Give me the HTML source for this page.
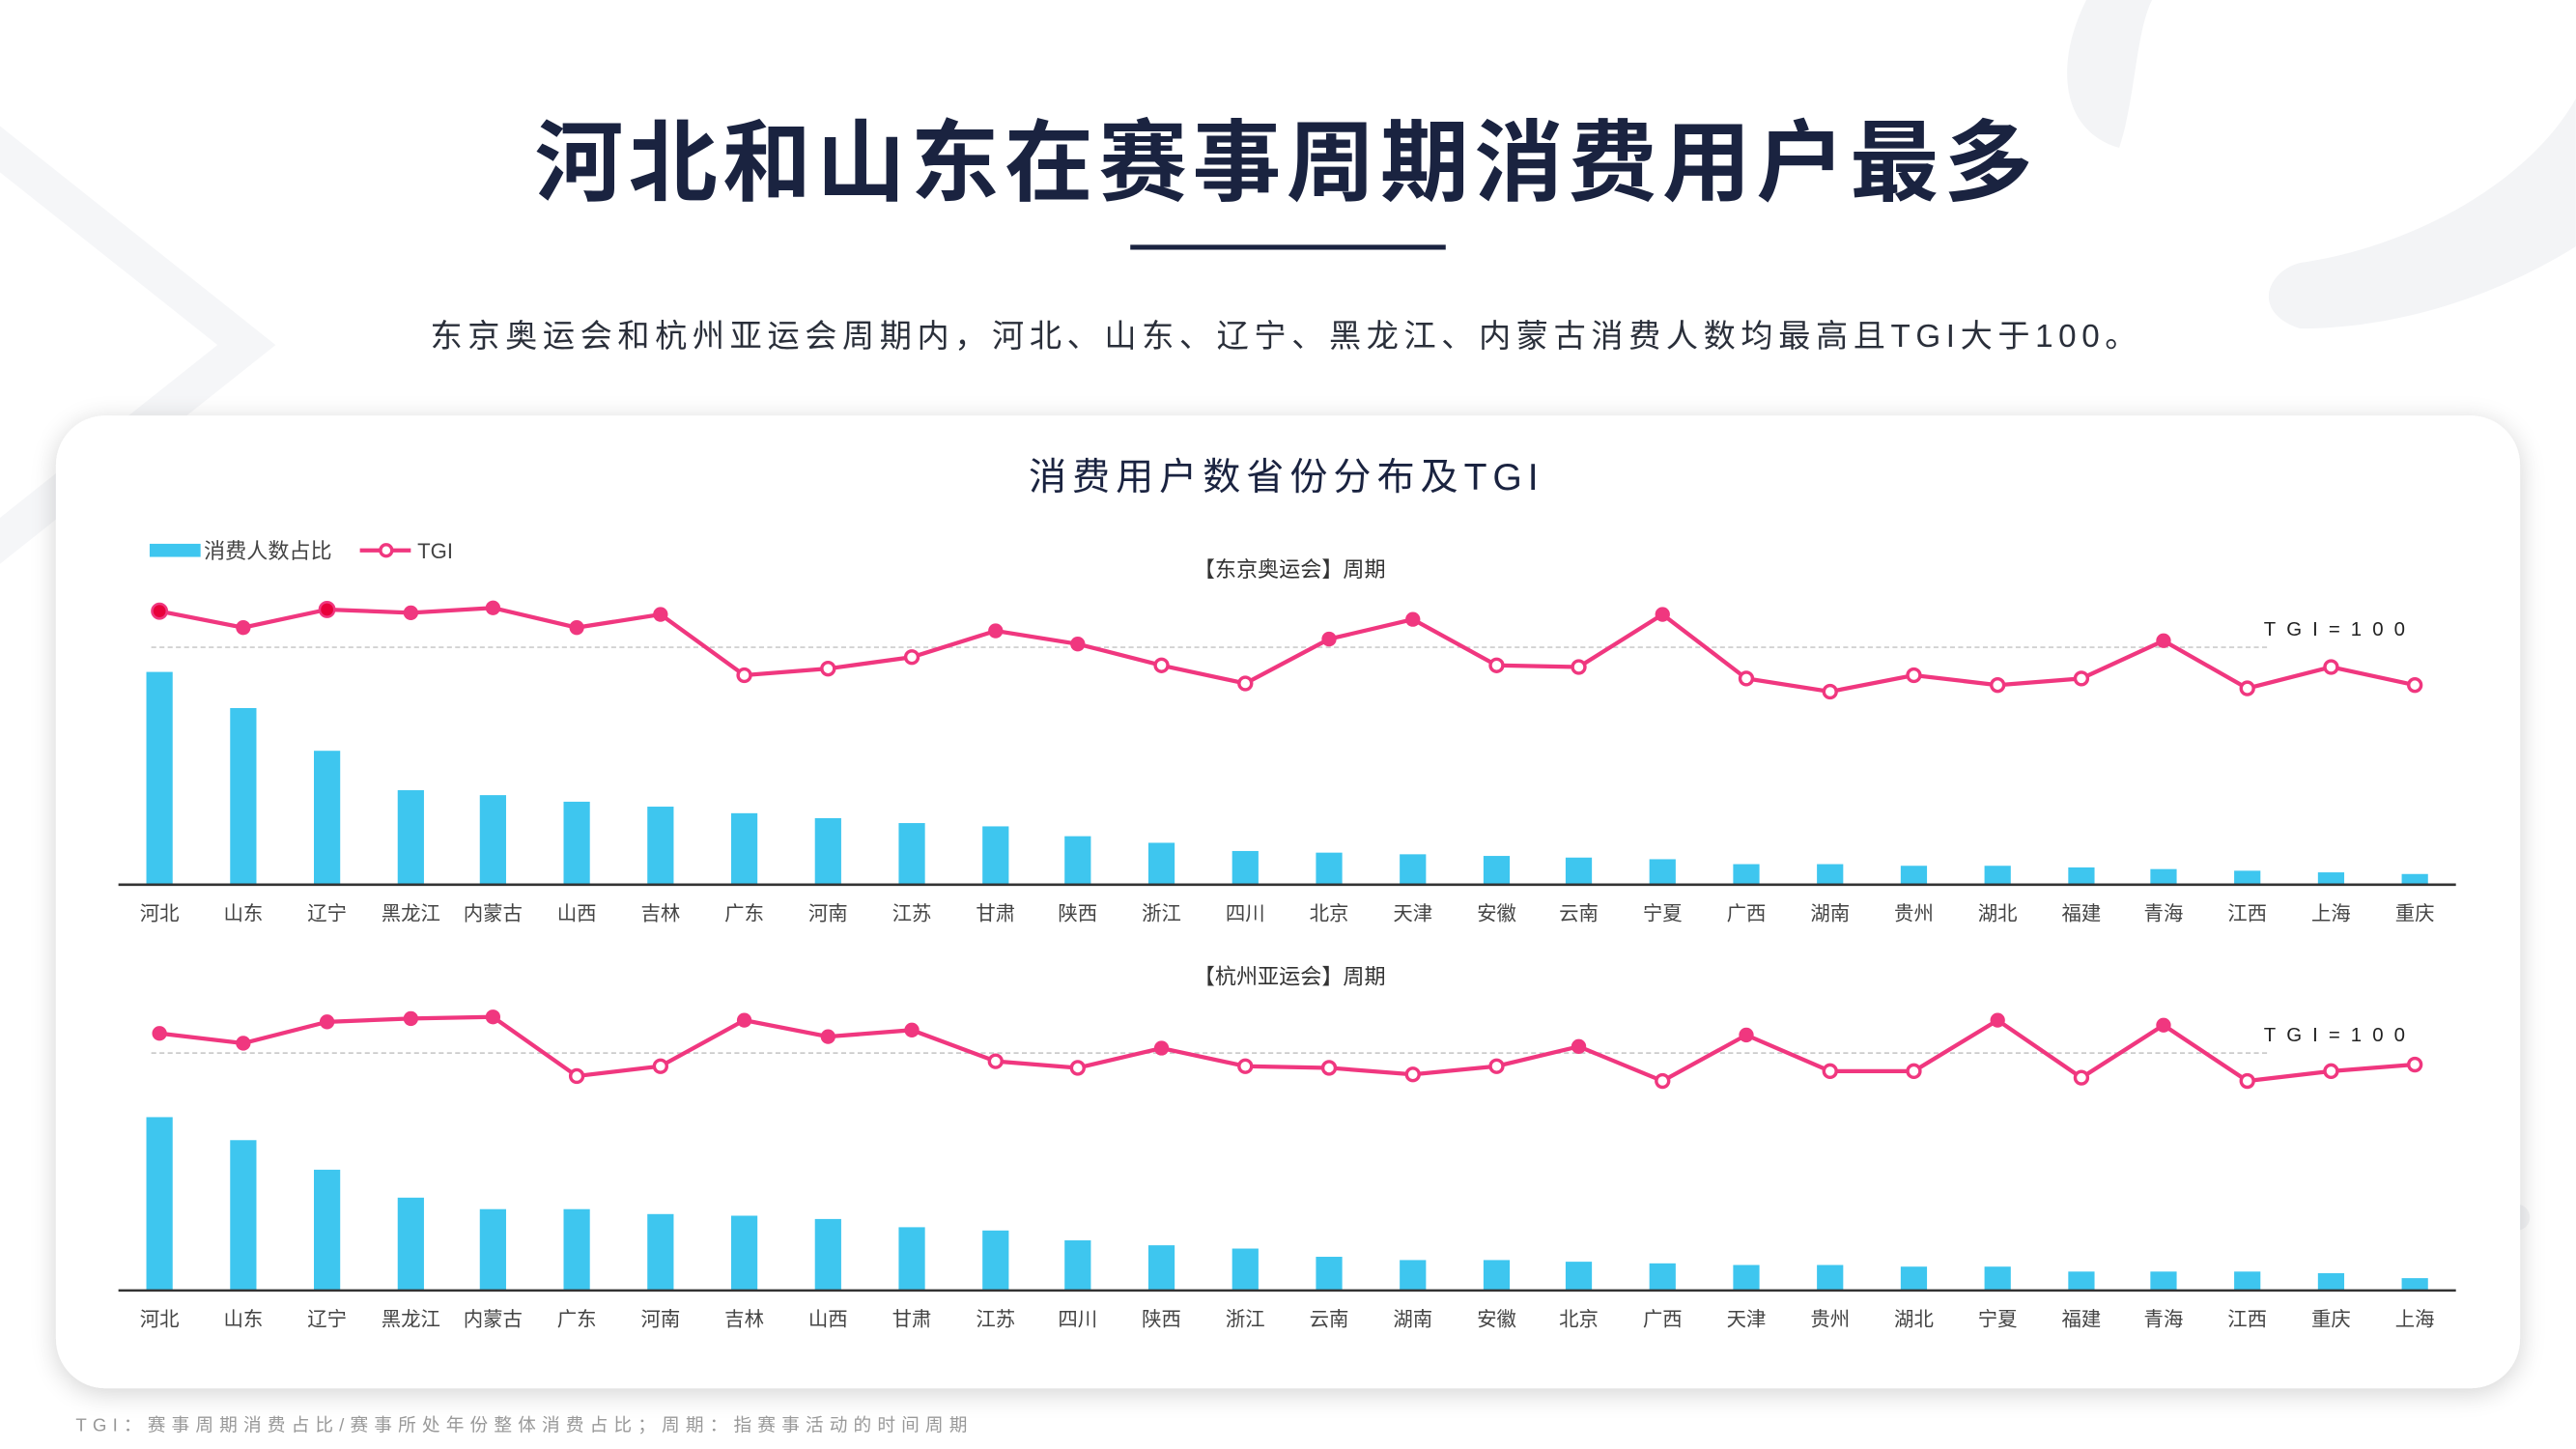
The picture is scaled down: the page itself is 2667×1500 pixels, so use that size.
<!DOCTYPE html>
<html><head><meta charset="utf-8"><style>
html,body{margin:0;padding:0;background:#fff;}
svg{display:block;}
text{font-family:"Liberation Sans","Noto Sans CJK SC",sans-serif;}
</style></head><body>
<svg width="2667" height="1500" viewBox="0 0 1568 882" xmlns="http://www.w3.org/2000/svg">
<defs>
<filter id="sh" x="-5%" y="-10%" width="110%" height="125%"><feGaussianBlur in="SourceAlpha" stdDeviation="8"/><feOffset dy="3"/><feComponentTransfer><feFuncA type="linear" slope="0.18"/></feComponentTransfer><feMerge><feMergeNode/><feMergeNode in="SourceGraphic"/></feMerge></filter>
</defs>
<rect width="1568" height="882" fill="#fff"/>
<polyline points="-20,75 150,210 -20,345" fill="none" stroke="#f5f6f8" stroke-width="22"/>
<path d="M1270,0 C1250,40 1255,80 1290,90 C1300,60 1300,20 1310,0 Z" fill="#f3f4f6"/>
<path d="M1400,160 C1470,150 1540,110 1568,60 L1568,150 C1520,180 1460,200 1400,200 C1370,190 1380,165 1400,160 Z" fill="#f3f4f6"/>
<rect x="1497" y="708" width="16" height="66" rx="8" fill="#f3f4f6"/>
<rect x="1470" y="733" width="70" height="16" rx="8" fill="#f3f4f6"/>
<text x="783" y="118" text-anchor="middle" font-size="54" font-weight="bold" fill="#1a2340" letter-spacing="3.2">河北和山东在赛事周期消费用户最多</text>
<rect x="688" y="149" width="192" height="3" fill="#1a2340"/>
<text x="783" y="211" text-anchor="middle" font-size="19.5" fill="#2a2f3a" letter-spacing="3.3">东京奥运会和杭州亚运会周期内，河北、山东、辽宁、黑龙江、内蒙古消费人数均最高且TGI大于100。</text>
<rect x="34" y="253" width="1500" height="592" rx="30" fill="#fff" filter="url(#sh)"/>
<text x="783" y="298" text-anchor="middle" font-size="23" fill="#1a2340" letter-spacing="3.5">消费用户数省份分布及TGI</text>
<rect x="91" y="331" width="31" height="8" fill="#3ec6ef"/>
<text x="124" y="340" font-size="13" fill="#444">消费人数占比</text>
<line x1="219" y1="335" x2="250" y2="335" stroke="#f0377f" stroke-width="2.5"/>
<circle cx="235" cy="335" r="3.5" fill="#fff" stroke="#f0377f" stroke-width="2"/>
<text x="254" y="340" font-size="13" fill="#444">TGI</text>
<text x="785" y="351" text-anchor="middle" font-size="13" fill="#333">【东京奥运会】周期</text>
<text x="785" y="599" text-anchor="middle" font-size="13" fill="#333">【杭州亚运会】周期</text>

<line x1="92" y1="394" x2="1380" y2="394" stroke="#ccc" stroke-width="1" stroke-dasharray="3,2"/>
<text x="1378" y="387" font-size="12" fill="#222" letter-spacing="6.5">TGI=100</text>
<g fill="#3ec6ef">
<rect x="89" y="409" width="16" height="129"/><rect x="140" y="431" width="16" height="107"/><rect x="191" y="457" width="16" height="81"/><rect x="242" y="481" width="16" height="57"/><rect x="292" y="484" width="16" height="54"/><rect x="343" y="488" width="16" height="50"/><rect x="394" y="491" width="16" height="47"/><rect x="445" y="495" width="16" height="43"/><rect x="496" y="498" width="16" height="40"/><rect x="547" y="501" width="16" height="37"/><rect x="598" y="503" width="16" height="35"/><rect x="648" y="509" width="16" height="29"/><rect x="699" y="513" width="16" height="25"/><rect x="750" y="518" width="16" height="20"/><rect x="801" y="519" width="16" height="19"/><rect x="852" y="520" width="16" height="18"/><rect x="903" y="521" width="16" height="17"/><rect x="953" y="522" width="16" height="16"/><rect x="1004" y="523" width="16" height="15"/><rect x="1055" y="526" width="16" height="12"/><rect x="1106" y="526" width="16" height="12"/><rect x="1157" y="527" width="16" height="11"/><rect x="1208" y="527" width="16" height="11"/><rect x="1259" y="528" width="16" height="10"/><rect x="1309" y="529" width="16" height="9"/><rect x="1360" y="530" width="16" height="8"/><rect x="1411" y="531" width="16" height="7"/><rect x="1462" y="532" width="16" height="6"/>
</g>
<line x1="72" y1="538.5" x2="1495" y2="538.5" stroke="#333" stroke-width="1.5"/>
<polyline fill="none" stroke="#f0377f" stroke-width="2.5" points="97,372 148,382 199,371 250,373 300,370 351,382 402,374 453,411 504,407 555,400 606,384 656,392 707,405 758,416 809,389 860,377 911,405 961,406 1012,374 1063,413 1114,421 1165,411 1216,417 1267,413 1317,390 1368,419 1419,406 1470,417"/>
<g fill="#f0377f">
<circle cx="97" cy="372" r="4.5" fill="#e8003a" stroke="#f0377f" stroke-width="1.5"/><circle cx="148" cy="382" r="4.5"/><circle cx="199" cy="371" r="4.5" fill="#e8003a" stroke="#f0377f" stroke-width="1.5"/><circle cx="250" cy="373" r="4.5"/><circle cx="300" cy="370" r="4.5"/><circle cx="351" cy="382" r="4.5"/><circle cx="402" cy="374" r="4.5"/><circle cx="606" cy="384" r="4.5"/><circle cx="656" cy="392" r="4.5"/><circle cx="809" cy="389" r="4.5"/><circle cx="860" cy="377" r="4.5"/><circle cx="1012" cy="374" r="4.5"/><circle cx="1317" cy="390" r="4.5"/>
</g>
<g fill="#fff" stroke="#f0377f" stroke-width="2">
<circle cx="453" cy="411" r="3.8"/><circle cx="504" cy="407" r="3.8"/><circle cx="555" cy="400" r="3.8"/><circle cx="707" cy="405" r="3.8"/><circle cx="758" cy="416" r="3.8"/><circle cx="911" cy="405" r="3.8"/><circle cx="961" cy="406" r="3.8"/><circle cx="1063" cy="413" r="3.8"/><circle cx="1114" cy="421" r="3.8"/><circle cx="1165" cy="411" r="3.8"/><circle cx="1216" cy="417" r="3.8"/><circle cx="1267" cy="413" r="3.8"/><circle cx="1368" cy="419" r="3.8"/><circle cx="1419" cy="406" r="3.8"/><circle cx="1470" cy="417" r="3.8"/>
</g>
<g font-size="12" fill="#444" text-anchor="middle">
<text x="97" y="560">河北</text><text x="148" y="560">山东</text><text x="199" y="560">辽宁</text><text x="250" y="560">黑龙江</text><text x="300" y="560">内蒙古</text><text x="351" y="560">山西</text><text x="402" y="560">吉林</text><text x="453" y="560">广东</text><text x="504" y="560">河南</text><text x="555" y="560">江苏</text><text x="606" y="560">甘肃</text><text x="656" y="560">陕西</text><text x="707" y="560">浙江</text><text x="758" y="560">四川</text><text x="809" y="560">北京</text><text x="860" y="560">天津</text><text x="911" y="560">安徽</text><text x="961" y="560">云南</text><text x="1012" y="560">宁夏</text><text x="1063" y="560">广西</text><text x="1114" y="560">湖南</text><text x="1165" y="560">贵州</text><text x="1216" y="560">湖北</text><text x="1267" y="560">福建</text><text x="1317" y="560">青海</text><text x="1368" y="560">江西</text><text x="1419" y="560">上海</text><text x="1470" y="560">重庆</text>
</g>

<line x1="92" y1="641" x2="1380" y2="641" stroke="#ccc" stroke-width="1" stroke-dasharray="3,2"/>
<text x="1378" y="634" font-size="12" fill="#222" letter-spacing="6.5">TGI=100</text>
<g fill="#3ec6ef">
<rect x="89" y="680" width="16" height="105"/><rect x="140" y="694" width="16" height="91"/><rect x="191" y="712" width="16" height="73"/><rect x="242" y="729" width="16" height="56"/><rect x="292" y="736" width="16" height="49"/><rect x="343" y="736" width="16" height="49"/><rect x="394" y="739" width="16" height="46"/><rect x="445" y="740" width="16" height="45"/><rect x="496" y="742" width="16" height="43"/><rect x="547" y="747" width="16" height="38"/><rect x="598" y="749" width="16" height="36"/><rect x="648" y="755" width="16" height="30"/><rect x="699" y="758" width="16" height="27"/><rect x="750" y="760" width="16" height="25"/><rect x="801" y="765" width="16" height="20"/><rect x="852" y="767" width="16" height="18"/><rect x="903" y="767" width="16" height="18"/><rect x="953" y="768" width="16" height="17"/><rect x="1004" y="769" width="16" height="16"/><rect x="1055" y="770" width="16" height="15"/><rect x="1106" y="770" width="16" height="15"/><rect x="1157" y="771" width="16" height="14"/><rect x="1208" y="771" width="16" height="14"/><rect x="1259" y="774" width="16" height="11"/><rect x="1309" y="774" width="16" height="11"/><rect x="1360" y="774" width="16" height="11"/><rect x="1411" y="775" width="16" height="10"/><rect x="1462" y="778" width="16" height="7"/>
</g>
<line x1="72" y1="785.5" x2="1495" y2="785.5" stroke="#333" stroke-width="1.5"/>
<polyline fill="none" stroke="#f0377f" stroke-width="2.5" points="97,629 148,635 199,622 250,620 300,619 351,655 402,649 453,621 504,631 555,627 606,646 656,650 707,638 758,649 809,650 860,654 911,649 961,637 1012,658 1063,630 1114,652 1165,652 1216,621 1267,656 1317,624 1368,658 1419,652 1470,648"/>
<g fill="#f0377f">
<circle cx="97" cy="629" r="4.5"/><circle cx="148" cy="635" r="4.5"/><circle cx="199" cy="622" r="4.5"/><circle cx="250" cy="620" r="4.5"/><circle cx="300" cy="619" r="4.5"/><circle cx="453" cy="621" r="4.5"/><circle cx="504" cy="631" r="4.5"/><circle cx="555" cy="627" r="4.5"/><circle cx="707" cy="638" r="4.5"/><circle cx="961" cy="637" r="4.5"/><circle cx="1063" cy="630" r="4.5"/><circle cx="1216" cy="621" r="4.5"/><circle cx="1317" cy="624" r="4.5"/>
</g>
<g fill="#fff" stroke="#f0377f" stroke-width="2">
<circle cx="351" cy="655" r="3.8"/><circle cx="402" cy="649" r="3.8"/><circle cx="606" cy="646" r="3.8"/><circle cx="656" cy="650" r="3.8"/><circle cx="758" cy="649" r="3.8"/><circle cx="809" cy="650" r="3.8"/><circle cx="860" cy="654" r="3.8"/><circle cx="911" cy="649" r="3.8"/><circle cx="1012" cy="658" r="3.8"/><circle cx="1114" cy="652" r="3.8"/><circle cx="1165" cy="652" r="3.8"/><circle cx="1267" cy="656" r="3.8"/><circle cx="1368" cy="658" r="3.8"/><circle cx="1419" cy="652" r="3.8"/><circle cx="1470" cy="648" r="3.8"/>
</g>
<g font-size="12" fill="#444" text-anchor="middle">
<text x="97" y="807">河北</text><text x="148" y="807">山东</text><text x="199" y="807">辽宁</text><text x="250" y="807">黑龙江</text><text x="300" y="807">内蒙古</text><text x="351" y="807">广东</text><text x="402" y="807">河南</text><text x="453" y="807">吉林</text><text x="504" y="807">山西</text><text x="555" y="807">甘肃</text><text x="606" y="807">江苏</text><text x="656" y="807">四川</text><text x="707" y="807">陕西</text><text x="758" y="807">浙江</text><text x="809" y="807">云南</text><text x="860" y="807">湖南</text><text x="911" y="807">安徽</text><text x="961" y="807">北京</text><text x="1012" y="807">广西</text><text x="1063" y="807">天津</text><text x="1114" y="807">贵州</text><text x="1165" y="807">湖北</text><text x="1216" y="807">宁夏</text><text x="1267" y="807">福建</text><text x="1317" y="807">青海</text><text x="1368" y="807">江西</text><text x="1419" y="807">重庆</text><text x="1470" y="807">上海</text>
</g>
<text x="46" y="871" font-size="11" fill="#999" letter-spacing="3.6">TGI：赛事周期消费占比/赛事所处年份整体消费占比；周期：指赛事活动的时间周期</text>
</svg>
</body></html>
